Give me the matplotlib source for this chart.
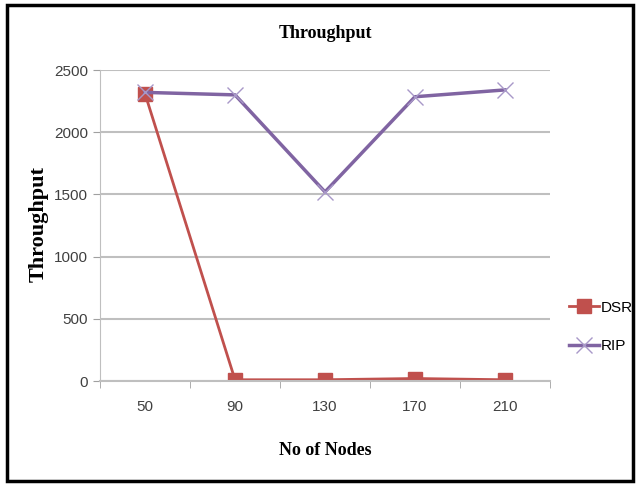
import matplotlib.pyplot as plt
from matplotlib.patches import Rectangle

nodes = ["50", "90", "130", "170", "210"]
dsr = [2310, 10, 10, 20, 10]
rip = [2320, 2300, 1520, 2285, 2340]

serif = ["Liberation Serif", "DejaVu Serif"]
narrow = ["Liberation Sans Narrow", "Liberation Sans", "DejaVu Sans"]

fig = plt.figure(figsize=(6.38, 4.86), dpi=100)
ax = fig.add_axes([100 / 638, 1 - 381 / 486, 450 / 638, 311 / 486])

x = list(range(len(nodes)))
ax.plot(x, dsr, color="#C0504D", lw=2, marker="s", ms=10, label="DSR")
ax.plot(x, rip, color="#8064A2", lw=2.5, marker="x", ms=11, mew=1, mec="#A898C8", label="RIP")

ax.set_xlim(-0.5, 4.5)
ax.set_ylim(0, 2500)
ax.set_yticks(range(0, 2501, 500))
ax.set_xticks(x)
ax.set_xticklabels(nodes, family=narrow, fontsize=11, color="#404040")
ax.set_xticks([i - 0.5 for i in range(6)], minor=True)
ax.tick_params(axis="x", which="major", length=0, pad=14)
ax.tick_params(axis="x", which="minor", length=5, color="#A0A0A0")
ax.tick_params(axis="y", length=5, color="#A0A0A0", labelsize=11, labelcolor="#404040")
for lab in ax.get_yticklabels():
    lab.set_family(narrow)
ax.grid(axis="y", color="#BFBFBF", lw=1.5)
ax.set_axisbelow(True)
for s in ["top", "right"]:
    ax.spines[s].set_visible(False)
ax.spines["left"].set_color("#BFBFBF")
ax.spines["bottom"].set_color("#BFBFBF")
ax.spines["bottom"].set_linewidth(1.5)

fig.text(325 / 638, 1 - 33 / 486, "Throughput", ha="center", va="center",
         family=serif, fontweight="bold", fontsize=13)
fig.text(325 / 638, 1 - 450 / 486, "No of Nodes", ha="center", va="center",
         family=serif, fontweight="bold", fontsize=13)
fig.text(39 / 638, 1 - 224 / 486, "Throughput", ha="center", va="center", rotation=90,
         family=serif, fontweight="bold", fontsize=16)

leg = fig.legend(loc="center left", bbox_to_anchor=(555 / 638, 1 - 327 / 486),
                 frameon=False, handlelength=2, handletextpad=0.1, labelspacing=1.6,
                 prop={"family": narrow, "size": 11})

fig.patches.append(Rectangle((7 / 638, 5 / 486), 626 / 638, 476 / 486,
                             transform=fig.transFigure, fill=False, ec="black", lw=2.5))

fig.savefig("out.png", dpi=100)
